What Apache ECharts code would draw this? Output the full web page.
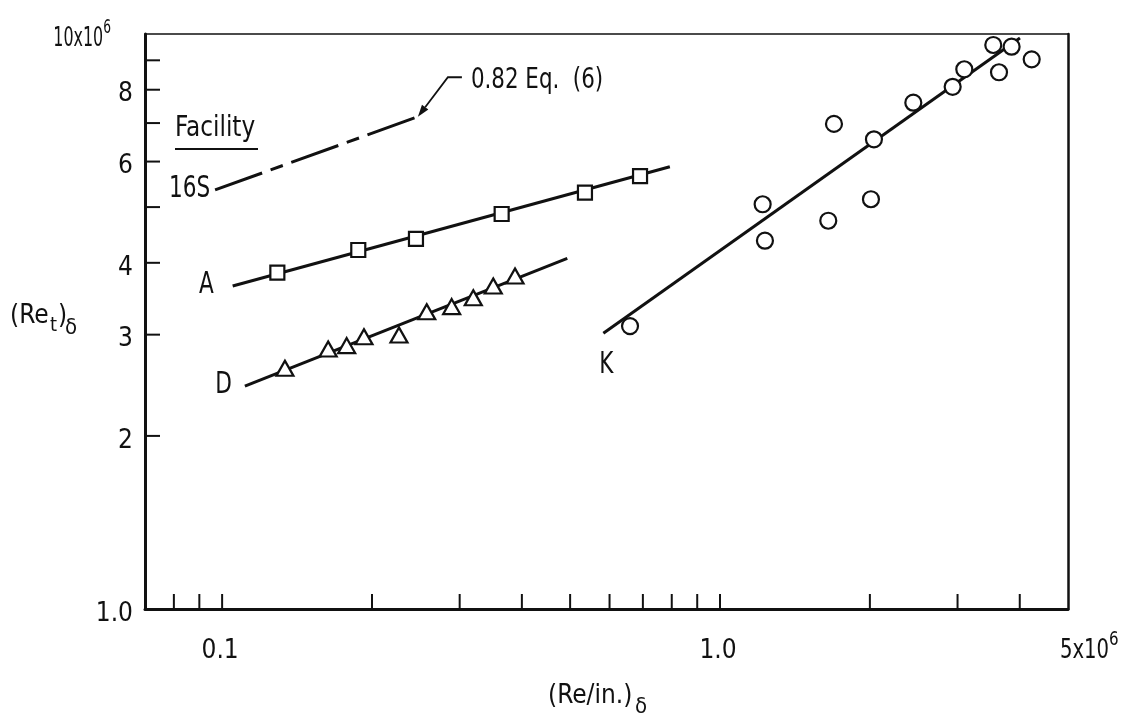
<!DOCTYPE html>
<html><head><meta charset="utf-8">
<script src="https://cdn.jsdelivr.net/npm/echarts@6/dist/echarts.min.js"></script>
<style>html,body{margin:0;padding:0;background:#fff}#c{width:1127px;height:719px}</style>
</head><body><div id="c"></div>
<script>
// ---------------- data ----------------
const X_MIN = 0.07, X_MAX = 5, Y_MIN = 1, Y_MAX = 10;
const line16S_x = [0.0968, 0.2473];
const line16S_y = [5.355, 7.18];
const lineA_x = [0.105, 0.793];
const lineA_y = [3.645, 5.877];
const pointsA_x = [0.1291, 0.1877, 0.2451, 0.3643, 0.5355, 0.6909];
const pointsA_y = [3.845, 4.211, 4.401, 4.864, 5.297, 5.662];
const lineD_x = [0.1111, 0.4935];
const lineD_y = [2.442, 4.073];
const pointsD_x = [0.1337, 0.1633, 0.1779, 0.1927, 0.2266, 0.2576, 0.2891, 0.3195, 0.3504, 0.3875];
const pointsD_y = [2.622, 2.833, 2.871, 2.975, 2.995, 3.289, 3.356, 3.478, 3.645, 3.795];
const lineK_x = [0.5831, 4.004];
const lineK_y = [3.016, 9.84];
const pointsK_x = [0.6596, 1.218, 1.231, 1.650, 1.694, 2.010, 2.038, 2.445, 2.933, 3.095, 3.539, 3.634, 3.852, 4.227];
const pointsK_y = [3.105, 5.057, 4.370, 4.734, 6.976, 5.160, 6.560, 7.595, 8.095, 8.683, 9.570, 8.579, 9.504, 9.036];
const xTickVals = [0.08, 0.09, 0.1, 0.2, 0.3, 0.4, 0.5, 0.6, 0.7, 0.8, 0.9, 1, 2, 3, 4];
const yTickVals = [2, 3, 4, 5, 6, 7, 8, 9];
const xLabelVals = [0.1, 1, 5];
const xLabelText = ['0.1', '1.0', '5x10^6'];
const yLabelVals = [1, 2, 3, 4, 6, 8, 10];
const yLabelText = ['1.0', '2', '3', '4', '6', '8', '10x10^6'];
const facilityNames = ['16S', 'A', 'D', 'K'];
const annotationText = '0.82 Eq.  (6)';
const headerText = 'Facility';
const xTitle = ['(Re/in.)', 'δ'];
const yTitle = ['(Re', 't', ')', 'δ'];

// ---------------- helpers ----------------
const FONT = "'Liberation Sans Narrow','DejaVu Sans Condensed','Noto Sans',sans-serif";
const INK = '#111';
const zip = (xs, ys) => xs.map((x, i) => [x, ys[i]]);
function richSup(t) {
  const p = t.split('^');
  return p.length > 1 ? '{m|' + p[0] + '}{sup|' + p[1] + '}' : '{m|' + t + '}';
}
const supRich = {
  m: { fontSize: 26, fontFamily: FONT, lineHeight: 34, verticalAlign: 'bottom', fill: INK, color: INK },
  sup: { fontSize: 20, fontFamily: FONT, lineHeight: 20, verticalAlign: 'top', fill: INK, color: INK }
};

function fitLine(xs, ys, dash) {
  return {
    type: 'line', data: zip(xs, ys), silent: true, z: 3, showSymbol: false, symbol: 'none',
    lineStyle: { color: INK, width: 3, type: dash || 'solid' }, animation: false
  };
}
function pts(xs, ys, symbol, size) {
  return {
    type: 'scatter', data: zip(xs, ys), symbol: symbol, symbolSize: size, z: 4, silent: true,
    itemStyle: { color: '#fff', borderColor: INK, borderWidth: 2.2, opacity: 1 }, animation: false
  };
}
function ticks(vals, axis) {
  return {
    type: 'custom', silent: true, z: 5, clip: false, animation: false,
    data: vals.map(v => axis === 'x' ? [v, Y_MIN] : [X_MIN, v]),
    renderItem: (params, api) => {
      const p = api.coord([api.value(0), api.value(1)]);
      const L = 15;
      const shape = axis === 'x'
        ? { x1: p[0], y1: p[1], x2: p[0], y2: p[1] - L }
        : { x1: p[0], y1: p[1], x2: p[0] + L, y2: p[1] };
      return { type: 'line', shape: shape, style: { stroke: INK, lineWidth: 2 } };
    }
  };
}
function tickLabels(vals, texts, axis) {
  return {
    type: 'custom', silent: true, z: 5, clip: false, animation: false,
    data: vals.map(v => axis === 'x' ? [v, Y_MIN] : [X_MIN, v]),
    renderItem: (params, api) => {
      const i = params.dataIndex;
      const p = api.coord([api.value(0), api.value(1)]);
      const last = i === texts.length - 1;
      let x, y, align, sx = 1;
      if (axis === 'x') {
        x = last ? p[0] - 8 : p[0] - 2; y = p[1] + 38; align = last ? 'left' : 'center';
        if (last) sx = 0.84;
      } else {
        x = last ? p[0] - 34 : p[0] - 12; y = last ? p[1] + 1 : p[1] + 1; align = 'right';
        if (last) sx = 0.68;
      }
      return { type: 'text', x: x, y: y, scaleX: sx,
        style: { text: richSup(texts[i]), rich: supRich, align: align, verticalAlign: 'middle', fill: INK,
                 font: '26px ' + FONT } };
    }
  };
}
// offsets of each facility label relative to its line's start point (layout only)
const nameLayout = [
  { dx: -5, dy: -1, align: 'right' },
  { dx: -19, dy: -1, align: 'right' },
  { dx: -13, dy: -1, align: 'right' },
  { dx: 3, dy: 32, align: 'center' }
];
function nameLabels() {
  const starts = [[line16S_x[0], line16S_y[0]], [lineA_x[0], lineA_y[0]], [lineD_x[0], lineD_y[0]], [lineK_x[0], lineK_y[0]]];
  return {
    type: 'custom', silent: true, z: 5, clip: false, animation: false, data: starts,
    renderItem: (params, api) => {
      const i = params.dataIndex, L = nameLayout[i];
      const p = api.coord([api.value(0), api.value(1)]);
      return { type: 'text', x: p[0] + L.dx, y: p[1] + L.dy, scaleX: 0.8,
        style: { text: facilityNames[i], font: '30px ' + FONT, fill: INK, align: L.align, verticalAlign: 'middle' } };
    }
  };
}

const chart = echarts.init(document.getElementById('c'), null, { renderer: 'canvas' });
const axisBase = { type: 'log', logBase: 10, axisTick: { show: false }, axisLabel: { show: false }, splitLine: { show: false } };
chart.setOption({
  backgroundColor: '#fff',
  animation: false,
  grid: { left: 145, right: 59, top: 34, bottom: 110, containLabel: false },
  xAxis: [
    Object.assign({}, axisBase, { min: X_MIN, max: X_MAX, position: 'bottom', axisLine: { onZero: false, lineStyle: { color: INK, width: 3 } } }),
    Object.assign({}, axisBase, { min: X_MIN, max: X_MAX, position: 'top', axisLine: { onZero: false, lineStyle: { color: INK, width: 1.5 } } })
  ],
  yAxis: [
    Object.assign({}, axisBase, { min: Y_MIN, max: Y_MAX, position: 'left', axisLine: { onZero: false, lineStyle: { color: INK, width: 3 } } }),
    Object.assign({}, axisBase, { min: Y_MIN, max: Y_MAX, position: 'right', axisLine: { onZero: false, lineStyle: { color: INK, width: 2.5 } } })
  ],
  series: [
    fitLine(line16S_x, line16S_y, [50, 9, 13, 9]),
    fitLine(lineA_x, lineA_y),
    fitLine(lineD_x, lineD_y),
    fitLine(lineK_x, lineK_y),
    pts(pointsA_x, pointsA_y, 'rect', 14),
    pts(pointsD_x, pointsD_y, 'triangle', [17, 15]),
    pts(pointsK_x, pointsK_y, 'circle', 16),
    ticks(xTickVals, 'x'),
    ticks(yTickVals, 'y'),
    tickLabels(xLabelVals, xLabelText, 'x'),
    tickLabels(yLabelVals, yLabelText, 'y'),
    nameLabels()
  ]
});

// annotations
const tip = chart.convertToPixel({ xAxisIndex: 0, yAxisIndex: 0 }, [line16S_x[1], line16S_y[1]]);
const elbow = [tip[0] + 30, tip[1] - 39.5];
const lstart = [elbow[0] + 14, elbow[1]];
const dx = tip[0] - elbow[0], dy = tip[1] - elbow[1], dl = Math.hypot(dx, dy);
const ux = dx / dl, uy = dy / dl, AL = 12, AW = 4;
const base = [tip[0] - ux * AL, tip[1] - uy * AL];
const head = [tip, [base[0] - uy * AW, base[1] + ux * AW], [base[0] + uy * AW, base[1] - ux * AW]];
const txt = (text, x, y, size, sx) => ({ type: 'text', x: x, y: y, scaleX: sx || 1, silent: true,
  style: { text: text, font: size + 'px ' + FONT, fill: INK, align: 'left', verticalAlign: 'middle' } });
chart.setOption({
  graphic: [
    { type: 'polyline', silent: true, shape: { points: [lstart, elbow, base] }, style: { stroke: INK, lineWidth: 1.8, fill: null } },
    { type: 'polygon', silent: true, shape: { points: head }, style: { fill: INK } },
    txt(annotationText, lstart[0] + 9, elbow[1] + 3, 28, 0.85),
    txt(headerText, 175, 128, 29, 0.89),
    { type: 'line', silent: true, shape: { x1: 175, y1: 149, x2: 258, y2: 149 }, style: { stroke: INK, lineWidth: 2 } },
    txt(xTitle[0], 548, 696, 26),
    txt(xTitle[1], 635, 707, 22),
    txt(yTitle[0], 10, 316, 26),
    txt(yTitle[1], 50, 326, 20),
    txt(yTitle[2], 58, 316, 26),
    txt(yTitle[3], 65, 328, 22)
  ]
});
</script></body></html>
